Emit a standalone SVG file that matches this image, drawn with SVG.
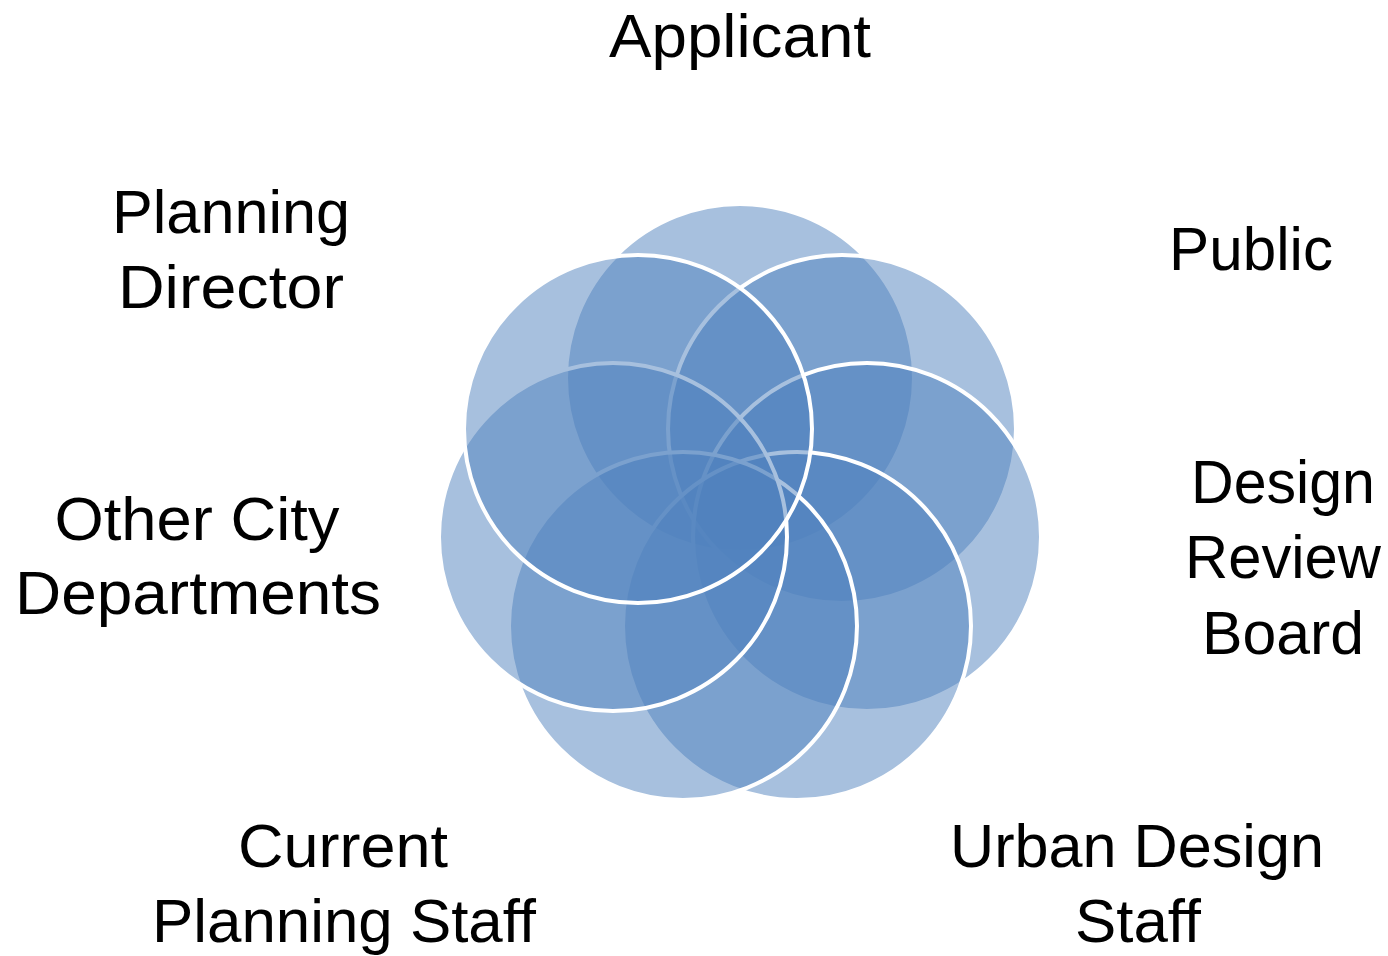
<svg xmlns="http://www.w3.org/2000/svg" width="1388" height="956" viewBox="0 0 1388 956">
<style>
.c{fill:#4f81bd;fill-opacity:0.5;stroke:#ffffff;stroke-width:4}
.t{font-family:"Liberation Sans",Arial,sans-serif;font-size:62px;fill:#000;text-anchor:middle}
</style>
<rect width="1388" height="956" fill="#fff"/>
<g id="rings">
<circle id="ring-applicant" class="c" cx="740" cy="378" r="174"/>
<circle id="ring-public" class="c" cx="842" cy="429" r="174"/>
<circle id="ring-drb" class="c" cx="867" cy="537" r="174"/>
<circle id="ring-uds" class="c" cx="797" cy="626" r="174"/>
<circle id="ring-cps" class="c" cx="683" cy="626" r="174"/>
<circle id="ring-ocd" class="c" cx="613" cy="537" r="174"/>
<circle id="ring-pd" class="c" cx="638" cy="429" r="174"/>
</g>
<g id="label-applicant"><text class="t" x="740" y="57" textLength="262" lengthAdjust="spacingAndGlyphs">Applicant</text></g>
<g id="label-public"><text class="t" x="1251" y="270" textLength="164" lengthAdjust="spacingAndGlyphs">Public</text></g>
<g id="label-drb">
<text class="t" x="1283" y="503" textLength="184" lengthAdjust="spacingAndGlyphs">Design</text>
<text class="t" x="1283" y="578" textLength="196" lengthAdjust="spacingAndGlyphs">Review</text>
<text class="t" x="1283" y="654" textLength="162" lengthAdjust="spacingAndGlyphs">Board</text>
</g>
<g id="label-uds">
<text class="t" x="1137" y="867" textLength="374" lengthAdjust="spacingAndGlyphs">Urban Design</text>
<text class="t" x="1138" y="942" textLength="126" lengthAdjust="spacingAndGlyphs">Staff</text>
</g>
<g id="label-cps">
<text class="t" x="343" y="867" textLength="210" lengthAdjust="spacingAndGlyphs">Current</text>
<text class="t" x="344" y="942" textLength="384" lengthAdjust="spacingAndGlyphs">Planning Staff</text>
</g>
<g id="label-ocd">
<text class="t" x="197" y="540" textLength="285" lengthAdjust="spacingAndGlyphs">Other City</text>
<text class="t" x="198" y="614" textLength="366" lengthAdjust="spacingAndGlyphs">Departments</text>
</g>
<g id="label-pd">
<text class="t" x="231" y="233" textLength="238" lengthAdjust="spacingAndGlyphs">Planning</text>
<text class="t" x="231" y="308" textLength="226" lengthAdjust="spacingAndGlyphs">Director</text>
</g>
<g id="connectors"></g>
</svg>
